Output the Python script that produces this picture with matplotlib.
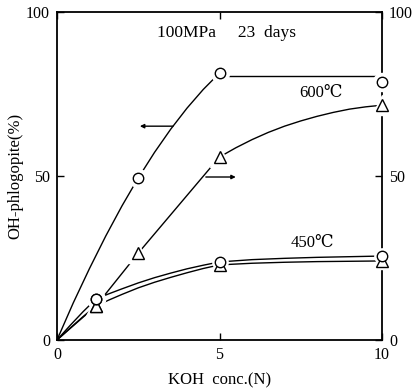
import matplotlib
matplotlib.use("Agg")
import matplotlib.pyplot as plt

plt.rcParams['font.family'] = ['Liberation Serif', 'DejaVu Serif', 'Noto Sans CJK JP']

# measured points
conc = [1.2, 2.5, 5, 10]
circ600 = [12.5, 49.4, 81.4, 78.7]
tri600 = [10.4, 26.5, 55.8, 71.6]
conc450 = [1.2, 5, 10]
circ450 = [12.5, 23.8, 25.6]
tri450 = [10.4, 22.9, 24.1]

# hand-drawn guide curves
c600_x = [0, 0.5, 1.0, 1.5, 2.0, 2.5, 3.0, 3.5, 4.0, 4.5, 5.0]
c600_y = [0, 11.3, 21.8, 31.7, 40.9, 49.4, 57.2, 64.3, 70.7, 76.4, 81.4]
c600b_x = [5.0, 10.0]
c600b_y = [80.6, 80.6]
t600_x = [0, 1.2, 2.5, 5.0, 5.5, 6.0, 6.5, 7.0, 7.5, 8.0, 8.5, 9.0, 9.5, 10.0]
t600_y = [0, 10.4, 26.5, 55.8, 58.6, 61.1, 63.3, 65.2, 66.8, 68.2, 69.4, 70.4, 71.1, 71.6]
c450_x = [0, 0.4, 0.8, 1.2, 1.6, 2.0, 2.5, 3.0, 3.5, 4.0, 4.5, 5.0, 6.0, 7.0, 8.0, 9.0, 10.0]
c450_y = [0, 4.4, 8.6, 12.5, 14.1, 15.6, 17.4, 19.0, 20.4, 21.7, 22.8, 23.8,
          24.5, 24.9, 25.2, 25.4, 25.6]
t450_x = [0, 0.4, 0.8, 1.2, 1.6, 2.0, 2.5, 3.0, 3.5, 4.0, 4.5, 5.0, 6.0, 7.0, 8.0, 9.0, 10.0]
t450_y = [0, 3.6, 7.1, 10.4, 12.2, 13.9, 15.9, 17.6, 19.1, 20.5, 21.8, 22.9,
          23.4, 23.7, 23.9, 24.0, 24.1]

xticks = [0, 5, 10]
yticks = [0, 50, 100]


def main():
    fig = plt.figure(figsize=(4.13, 3.89), dpi=100)
    ax = fig.add_axes([0.138, 0.126, 0.787, 0.843])
    ax.set_xlim(0, 10)
    ax.set_ylim(0, 100)

    lw = 1.0
    for xs, ys in [(c600_x, c600_y), (c600b_x, c600b_y), (t600_x, t600_y),
                   (c450_x, c450_y), (t450_x, t450_y)]:
        ax.plot(xs, ys, color='k', lw=lw, zorder=2)

    # white halo so lines stop short of the symbols
    ax.plot(conc, circ600, 'o', ms=13, mfc='white', mec='white', zorder=3, clip_on=False)
    ax.plot(conc, tri600, '^', ms=14, mfc='white', mec='white', zorder=3, clip_on=False)
    ax.plot(conc450, circ450, 'o', ms=11, mfc='white', mec='white', zorder=3, clip_on=False)
    ax.plot(conc450, tri450, '^', ms=12, mfc='white', mec='white', zorder=3, clip_on=False)

    ax.plot(conc, tri600, '^', ms=8.5, mfc='white', mec='k', mew=1.0, zorder=4, clip_on=False)
    ax.plot(conc450, tri450, '^', ms=8.5, mfc='white', mec='k', mew=1.0, zorder=4, clip_on=False)
    ax.plot(conc, circ600, 'o', ms=7.5, mfc='white', mec='k', mew=1.0, zorder=5, clip_on=False)
    ax.plot(conc450, circ450, 'o', ms=7.5, mfc='white', mec='k', mew=1.0, zorder=5, clip_on=False)

    # axis pointers
    ax.annotate('', xy=(2.55, 65.2), xytext=(3.57, 65.2),
                arrowprops=dict(arrowstyle='-|>', color='k', lw=1.0,
                                mutation_scale=6, shrinkA=0, shrinkB=0))
    ax.annotate('', xy=(5.5, 49.7), xytext=(4.58, 49.7),
                arrowprops=dict(arrowstyle='-|>', color='k', lw=1.0,
                                mutation_scale=6, shrinkA=0, shrinkB=0))

    ax.text(5.2, 93.6, '100MPa     23  days', ha='center', va='center', fontsize=12.5)
    ax.text(8.12, 75.3, '600℃', ha='center', va='center', fontsize=12)
    ax.text(7.85, 29.6, '450℃', ha='center', va='center', fontsize=12)

    ax.set_xticks(xticks)
    ax.set_xticklabels([str(t) for t in xticks])
    ax.set_yticks(yticks)
    ax.set_yticklabels([str(t) for t in yticks])
    ax.tick_params(direction='in', length=5, width=1.0, labelsize=11.5,
                   top=True, right=True, labelright=True, pad=5)
    for s in ax.spines.values():
        s.set_linewidth(1.3)

    ax.set_xlabel('KOH  conc.(N)', fontsize=12, labelpad=7)
    ax.set_ylabel('OH-phlogopite(%)', fontsize=12, labelpad=2)

    fig.savefig('out.png', dpi=100)


if __name__ == "__main__":
    main()
